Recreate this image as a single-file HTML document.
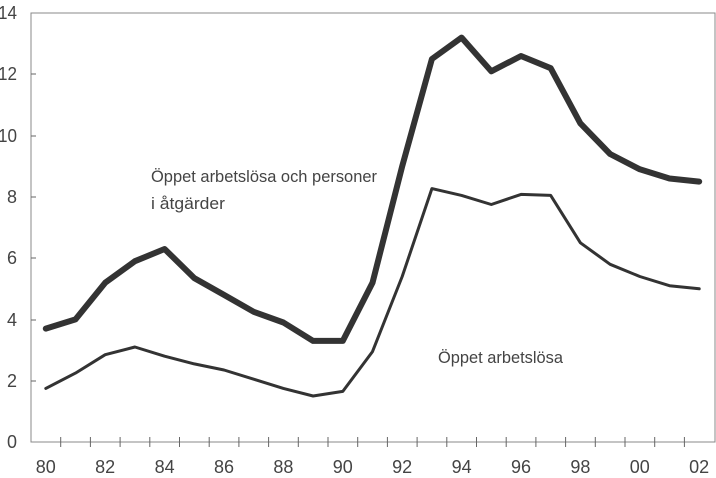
<!DOCTYPE html>
<html><head><meta charset="utf-8"><style>body{margin:0;background:#fff}svg{display:block}</style></head><body>
<svg width="716" height="478" xmlns="http://www.w3.org/2000/svg" font-family="Liberation Sans, sans-serif" fill="#444">
<rect x="31" y="13" width="684" height="429" fill="none" stroke="#888" stroke-width="1"/>
<g stroke="#666" stroke-width="1">
<line x1="31" y1="381" x2="36" y2="381"/><line x1="31" y1="320" x2="36" y2="320"/><line x1="31" y1="258" x2="36" y2="258"/><line x1="31" y1="197" x2="36" y2="197"/><line x1="31" y1="136" x2="36" y2="136"/><line x1="31" y1="74" x2="36" y2="74"/>
<path d="M60.7 437v10M90.4 437v10M120.1 437v10M149.8 437v10M179.5 437v10M209.2 437v10M238.9 437v10M268.6 437v10M298.3 437v10M328 437v10M357.7 437v10M387.4 437v10M417.1 437v10M446.8 437v10M476.5 437v10M506.2 437v10M535.9 437v10M565.6 437v10M595.3 437v10M625 437v10M654.7 437v10M684.4 437v10"/>
</g>
<g font-size="18" text-anchor="end">
<text x="17" y="448" textLength="10" lengthAdjust="spacingAndGlyphs">0</text>
<text x="17" y="387" textLength="10" lengthAdjust="spacingAndGlyphs">2</text>
<text x="17" y="326" textLength="10" lengthAdjust="spacingAndGlyphs">4</text>
<text x="17" y="264" textLength="10" lengthAdjust="spacingAndGlyphs">6</text>
<text x="17" y="203" textLength="10" lengthAdjust="spacingAndGlyphs">8</text>
<text x="17" y="142" textLength="19" lengthAdjust="spacingAndGlyphs">10</text>
<text x="17" y="80" textLength="19" lengthAdjust="spacingAndGlyphs">12</text>
<text x="17" y="19" textLength="19" lengthAdjust="spacingAndGlyphs">14</text>
</g>
<g font-size="18" text-anchor="middle">
<text x="45.8" y="473">80</text><text x="105.2" y="473">82</text><text x="164.6" y="473">84</text><text x="224" y="473">86</text><text x="283.4" y="473">88</text><text x="342.8" y="473">90</text><text x="402.2" y="473">92</text><text x="461.6" y="473">94</text><text x="521" y="473">96</text><text x="580.4" y="473">98</text><text x="639.8" y="473">00</text><text x="699.2" y="473">02</text>
</g>
<polyline fill="none" stroke="#333" stroke-width="6" stroke-linejoin="round" stroke-linecap="round" points="45.8,328.6 75.5,319.4 105.2,282.7 134.9,261.2 164.6,249 194.3,278.1 224,294.9 253.7,311.8 283.4,322.5 313.1,340.9 342.8,340.9 372.5,282.7 402.2,166.2 431.9,59 461.6,37.6 491.3,71.3 521,56 550.7,68.2 580.4,123.4 610.1,154 639.8,169.3 669.5,178.5 699.2,181.6"/>
<polyline fill="none" stroke="#333" stroke-width="3" stroke-linejoin="round" stroke-linecap="round" points="45.8,388.4 75.5,373.1 105.2,354.7 134.9,347 164.6,356.2 194.3,363.9 224,370 253.7,379.2 283.4,388.4 313.1,396 342.8,391.4 372.5,351.6 402.2,276.5 431.9,188.6 461.6,195.4 491.3,204.5 521,194.4 550.7,195.4 580.4,242.8 610.1,264.3 639.8,276.5 669.5,285.7 699.2,288.8"/>
<g font-size="17">
<text x="151" y="182" textLength="226" lengthAdjust="spacingAndGlyphs">Öppet arbetslösa och personer</text>
<text x="151" y="209" textLength="74" lengthAdjust="spacingAndGlyphs">i åtgärder</text>
<text x="438" y="363" textLength="125" lengthAdjust="spacingAndGlyphs">Öppet arbetslösa</text>
</g>
</svg>
</body></html>
